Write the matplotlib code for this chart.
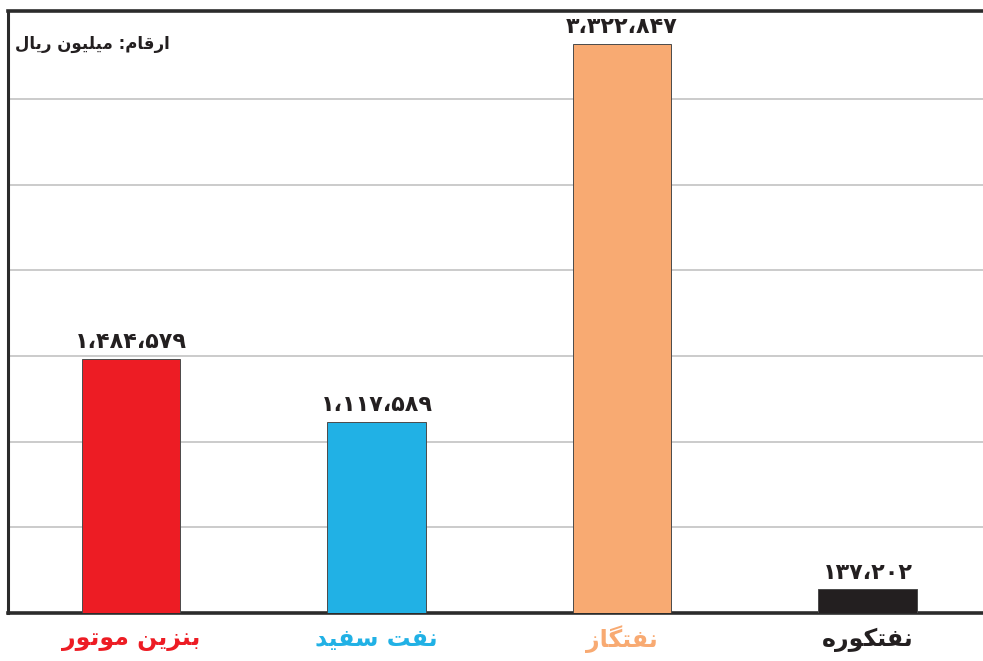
import matplotlib
matplotlib.use("Agg")
import matplotlib.pyplot as plt

# ---------------- data ----------------
categories = ["بنزین موتور", "نفت سفید", "نفتگاز", "نفتکوره"]
values = [1484579, 1117589, 3322847, 137202]
colors = ["#ED1C24", "#21B1E5", "#F8AA72", "#231F20"]
unit_note = "ارقام: میلیون ریال"
y_max = 3500000
y_step = 500000

# ------------- simple Persian shaping (presentation forms) -------------
FORMS = {
    '\u0627': ('\uFE8D', '\uFE8E', None, None),
    '\u0628': ('\uFE8F', '\uFE90', '\uFE91', '\uFE92'),
    '\u067E': ('\uFB56', '\uFB57', '\uFB58', '\uFB59'),
    '\u062A': ('\uFE95', '\uFE96', '\uFE97', '\uFE98'),
    '\u062B': ('\uFE99', '\uFE9A', '\uFE9B', '\uFE9C'),
    '\u062C': ('\uFE9D', '\uFE9E', '\uFE9F', '\uFEA0'),
    '\u0686': ('\uFB7A', '\uFB7B', '\uFB7C', '\uFB7D'),
    '\u062D': ('\uFEA1', '\uFEA2', '\uFEA3', '\uFEA4'),
    '\u062E': ('\uFEA5', '\uFEA6', '\uFEA7', '\uFEA8'),
    '\u062F': ('\uFEA9', '\uFEAA', None, None),
    '\u0630': ('\uFEAB', '\uFEAC', None, None),
    '\u0631': ('\uFEAD', '\uFEAE', None, None),
    '\u0632': ('\uFEAF', '\uFEB0', None, None),
    '\u0698': ('\uFB8A', '\uFB8B', None, None),
    '\u0633': ('\uFEB1', '\uFEB2', '\uFEB3', '\uFEB4'),
    '\u0634': ('\uFEB5', '\uFEB6', '\uFEB7', '\uFEB8'),
    '\u0635': ('\uFEB9', '\uFEBA', '\uFEBB', '\uFEBC'),
    '\u0636': ('\uFEBD', '\uFEBE', '\uFEBF', '\uFEC0'),
    '\u0637': ('\uFEC1', '\uFEC2', '\uFEC3', '\uFEC4'),
    '\u0638': ('\uFEC5', '\uFEC6', '\uFEC7', '\uFEC8'),
    '\u0639': ('\uFEC9', '\uFECA', '\uFECB', '\uFECC'),
    '\u063A': ('\uFECD', '\uFECE', '\uFECF', '\uFED0'),
    '\u0641': ('\uFED1', '\uFED2', '\uFED3', '\uFED4'),
    '\u0642': ('\uFED5', '\uFED6', '\uFED7', '\uFED8'),
    '\u06A9': ('\uFB8E', '\uFB8F', '\uFB90', '\uFB91'),
    '\u06AF': ('\uFB92', '\uFB93', '\uFB94', '\uFB95'),
    '\u0644': ('\uFEDD', '\uFEDE', '\uFEDF', '\uFEE0'),
    '\u0645': ('\uFEE1', '\uFEE2', '\uFEE3', '\uFEE4'),
    '\u0646': ('\uFEE5', '\uFEE6', '\uFEE7', '\uFEE8'),
    '\u0647': ('\uFEE9', '\uFEEA', '\uFEEB', '\uFEEC'),
    '\u0648': ('\uFEED', '\uFEEE', None, None),
    '\u06CC': ('\uFBFC', '\uFBFD', '\uFBFE', '\uFBFF'),
}


def shape(text):
    out = []
    n = len(text)
    for i, ch in enumerate(text):
        if ch not in FORMS:
            out.append(ch)
            continue
        iso, fin, ini, med = FORMS[ch]
        prev = text[i - 1] if i > 0 else None
        nxt = text[i + 1] if i < n - 1 else None
        join_prev = prev in FORMS and FORMS[prev][2] is not None
        join_next = nxt in FORMS and ini is not None
        if join_prev and join_next:
            out.append(med)
        elif join_prev:
            out.append(fin)
        elif join_next:
            out.append(ini)
        else:
            out.append(iso)
    return "".join(reversed(out))


PDIG = "۰۱۲۳۴۵۶۷۸۹"


def fa_number(v):
    s = f"{v:,}"
    return "".join(PDIG[int(c)] if c.isdigit() else "،" for c in s)


# ---------------- figure ----------------
W, H = 983, 661
fig = plt.figure(figsize=(W / 100, H / 100), dpi=100)
ax = fig.add_axes([8 / W, (H - 613) / H, 1 - 8 / W, (613 - 11) / H])

x = list(range(len(categories)))
ax.bar(x, values, width=0.4, color=colors, edgecolor="#4a4a4a", linewidth=0.7, zorder=3)

ax.set_xlim(-0.5, 3.47)
ax.set_ylim(0, y_max * 1.004)
ax.set_yticks(range(0, y_max, y_step))
ax.yaxis.grid(True, color="#bdbdbd", linewidth=1.1, zorder=0)
ax.set_axisbelow(True)
ax.tick_params(left=False, bottom=False, labelleft=False, labelbottom=False)

for side in ["left", "top", "bottom"]:
    ax.spines[side].set_color("#2b2b2b")
ax.spines["left"].set_linewidth(2.2)
ax.spines["top"].set_linewidth(2.6)
ax.spines["bottom"].set_linewidth(2.6)
ax.spines["right"].set_visible(False)

for xi, v in zip(x, values):
    ax.annotate(fa_number(v), (xi, v), xytext=(0, 5), textcoords="offset points",
                ha="center", va="bottom", fontsize=16, fontweight="bold",
                color="#231F20", family="DejaVu Sans", zorder=4)

for xi, cat, col in zip(x, categories, colors):
    ax.annotate(shape(cat), (xi, 0), xytext=(0, -19), textcoords="offset points",
                ha="center", va="center", fontsize=17, fontweight="bold",
                color=col, family="DejaVu Sans", annotation_clip=False)

ax.text(0.007, 0.945, shape(unit_note), transform=ax.transAxes, ha="left", va="center",
        fontsize=12, fontweight="bold", color="#231F20", family="DejaVu Sans")

fig.savefig("out.png", dpi=100)
